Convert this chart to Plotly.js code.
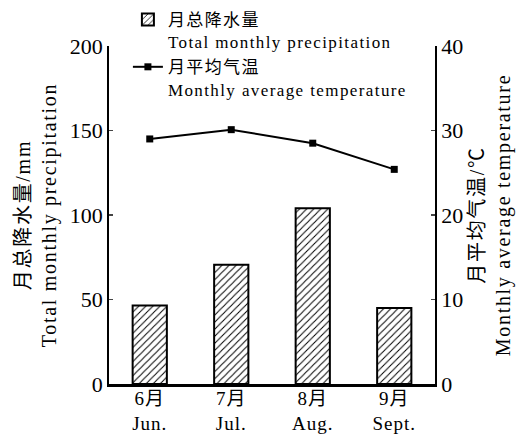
<!DOCTYPE html>
<html><head><meta charset="utf-8">
<script src="https://cdn.plot.ly/plotly-3.0.1.min.js"></script>
<style>
html,body{margin:0;padding:0;background:#fff}
text.ytitle, text.y2title { letter-spacing: 1.7px; }
text.legendtext { letter-spacing: 1.4px; }
.xtick text { letter-spacing: 1px; }
</style>
</head><body><div id="chart" style="width:524px;height:438px"></div>
<script>
const categories = ["6月<br>Jun.", "7月<br>Jul.", "8月<br>Aug.", "9月<br>Sept."];
const precipitation = [46.5, 70.5, 104, 45];
const temperature = [29.0, 30.1, 28.5, 25.4];
const leftTicks = [0, 50, 100, 150, 200];
const rightTicks = [0, 10, 20, 30, 40];

const FONT = "Liberation Serif, 'Times New Roman', 'Noto Sans CJK SC', serif";

const traces = [
  {
    type: 'bar', x: categories, y: precipitation,
    name: '月总降水量<br>Total monthly precipitation',
    width: 0.42,
    marker: {color: '#ffffff', line: {color: '#000', width: 2},
             pattern: {shape: '/', fgcolor: '#000', bgcolor: '#fff', size: 5, solidity: 0.2}},
    yaxis: 'y'
  },
  {
    type: 'scatter', mode: 'lines+markers', x: categories, y: temperature,
    name: '月平均气温<br>Monthly average temperature',
    line: {color: '#000', width: 2},
    marker: {symbol: 'square', size: 7, color: '#000'},
    yaxis: 'y2'
  }
];

const layout = {
  width: 524, height: 438,
  margin: {l: 109, r: 89, t: 46, b: 54, autoexpand: false},
  paper_bgcolor: '#fff', plot_bgcolor: '#fff',
  font: {family: FONT, color: '#000', size: 20},
  showlegend: true,
  legend: {x: 0.058, y: 1.13, xanchor: 'left', yanchor: 'top', bgcolor: 'rgba(0,0,0,0)',
           font: {size: 17, family: FONT}, valign: 'top', tracegroupgap: 0, itemwidth: 30},
  xaxis: {
    type: 'category', range: [-0.5, 3.5],
    showline: true, linecolor: '#000', linewidth: 2.5, ticks: '', showgrid: false, zeroline: false,
    tickfont: {size: 19, family: FONT}, ticklabelstandoff: -4, fixedrange: true
  },
  yaxis: {
    range: [0, 200], tickvals: leftTicks, ticks: 'inside', ticklen: 4, tickwidth: 1.5,
    showline: true, linecolor: '#000', linewidth: 1.8, showgrid: false, zeroline: false,
    tickfont: {size: 22, family: FONT},
    title: {text: '月总降水量/mm<br>Total monthly precipitation', font: {size: 20, family: FONT}, standoff: 8}
  },
  yaxis2: {
    overlaying: 'y', side: 'right', range: [0, 40], tickvals: rightTicks,
    ticks: 'inside', ticklen: 4, tickwidth: 1.5,
    showline: true, linecolor: '#000', linewidth: 1.8, showgrid: false, zeroline: false,
    tickfont: {size: 22, family: FONT},
    title: {text: '月平均气温/℃<br>Monthly average temperature', font: {size: 20, family: FONT}, standoff: 8}
  }
};

Plotly.newPlot('chart', traces, layout, {displayModeBar: false, staticPlot: true});
</script></body></html>
